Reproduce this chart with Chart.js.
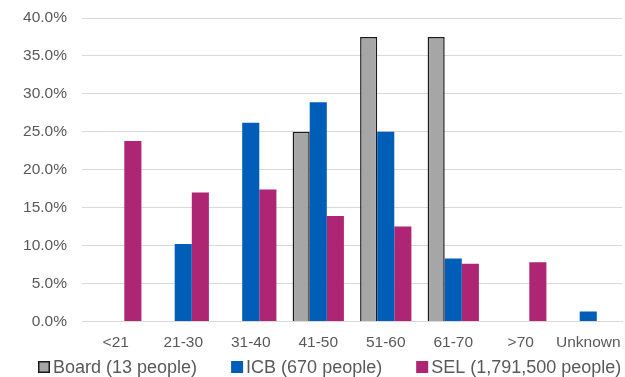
<!DOCTYPE html>
<html>
<head>
<meta charset="utf-8">
<script src="https://cdn.jsdelivr.net/npm/chart.js@4"></script>
<style>
  html, body { margin: 0; padding: 0; background: #fff; }
  #wrap { width: 625px; height: 377px; }
</style>
</head>
<body>
<div id="wrap"><canvas id="ageChart"></canvas></div>
<script>
// Age bands
const ageBands = ['<21', '21-30', '31-40', '41-50', '51-60', '61-70', '>70', 'Unknown'];

// Share of each group (%), null where there is no bar
const boardPct = [null, null, null, 25.0, 37.5, 37.5, null, null];
const icbPct = [null, 10.2, 26.2, 28.9, 25.0, 8.3, null, 1.3];
const selPct = [23.8, 17.0, 17.4, 13.9, 12.5, 7.6, 7.8, null];

const seriesNames = ['Board (13 people)', 'ICB (670 people)', 'SEL (1,791,500 people)'];

const textGrey = '#595959';
const gridGrey = '#d9d9d9';
const fontFamily = 'Liberation Sans, Arial, sans-serif';

// Legend drawn in one row below the axis, like the office chart
const bottomLegend = {
    id: 'bottomLegend',
    afterDraw(chart) {
        const ctx = chart.ctx;
        const box = 12;
        let x = 38;
        const y = 367;
        ctx.save();
        ctx.font = '18px ' + fontFamily;
        ctx.textBaseline = 'middle';
        ctx.textAlign = 'left';
        chart.data.datasets.forEach(function(ds) {
            ctx.fillStyle = ds.backgroundColor;
            ctx.fillRect(x, y - box / 2, box, box);
            if (ds.borderWidth) {
                ctx.strokeStyle = ds.borderColor;
                ctx.lineWidth = ds.borderWidth;
                ctx.strokeRect(x + 0.75, y - box / 2 + 0.75, box - 1.5, box - 1.5);
            }
            ctx.fillStyle = textGrey;
            ctx.fillText(ds.label, x + box + 3, y + 1);
            x += box + 3 + ctx.measureText(ds.label).width + 34;
        });
        ctx.restore();
    }
};

const ageChart = new Chart(document.getElementById('ageChart').getContext('2d'), {
    type: 'bar',
    data: {
        labels: ageBands,
        datasets: [{
            label: seriesNames[0],
            data: boardPct,
            backgroundColor: '#a6a6a6',
            borderColor: '#1a1a1a',
            borderWidth: 1.5,
            borderSkipped: 'bottom'
        }, {
            label: seriesNames[1],
            data: icbPct,
            backgroundColor: '#005eb8',
            borderWidth: 0
        }, {
            label: seriesNames[2],
            data: selPct,
            backgroundColor: '#ae2573',
            borderWidth: 0
        }]
    },
    options: {
        responsive: true,
        maintainAspectRatio: false,
        animation: false,
        datasets: {
            bar: {
                categoryPercentage: 0.76,
                barPercentage: 1.0
            }
        },
        layout: {
            padding: { left: 0, right: 3, top: 18, bottom: 13 }
        },
        plugins: {
            tooltip: { enabled: false },
            legend: { display: false }
        },
        scales: {
            x: {
                afterFit: function(scale) {
                    scale.paddingLeft = 0;
                    scale.paddingRight = 0;
                },
                grid: { display: false, drawTicks: false },
                border: { display: true, color: gridGrey, width: 1 },
                ticks: {
                    color: textGrey,
                    font: { family: fontFamily, size: 15.5 },
                    padding: 12,
                    maxRotation: 0,
                    autoSkip: false
                }
            },
            y: {
                min: 0,
                max: 40,
                afterFit: function(scale) {
                    scale.width = 82;
                    scale.paddingTop = 0;
                    scale.paddingBottom = 0;
                },
                grid: { color: gridGrey, lineWidth: 1, drawTicks: false },
                border: { display: false },
                ticks: {
                    stepSize: 5,
                    color: textGrey,
                    font: { family: fontFamily, size: 15.5 },
                    padding: 15,
                    callback: function(value) {
                        return value.toFixed(1) + '%';
                    }
                }
            }
        }
    },
    plugins: [bottomLegend]
});
</script>
</body>
</html>
